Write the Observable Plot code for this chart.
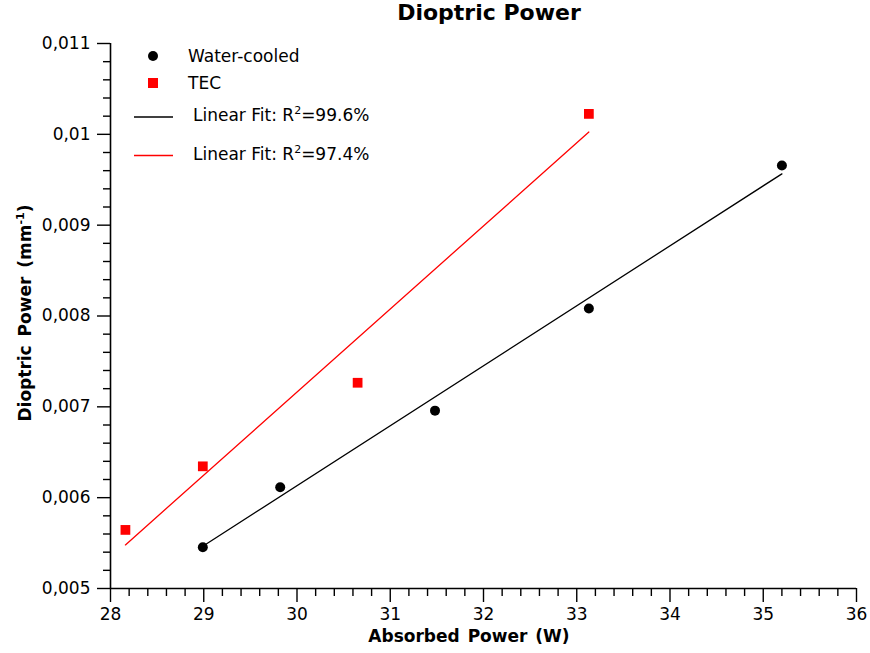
<!DOCTYPE html>
<html>
<head>
<meta charset="utf-8">
<script src="https://cdn.jsdelivr.net/npm/d3@7"></script>
<script src="https://cdn.jsdelivr.net/npm/@observablehq/plot@0.6"></script>
<style>
  body { margin: 0; background: #fff; }
  svg { display: block; }
</style>
</head>
<body>
<div id="chart"></div>
<script>
// ---- data ----
const waterX = [28.99, 29.82, 31.48, 33.13, 35.20];
const waterY = [0.005455, 0.006115, 0.006958, 0.008083, 0.009657];
const tecX = [28.16, 28.99, 30.65, 33.13];
const tecY = [0.005645, 0.006345, 0.007265, 0.010225];
// fitted line end points
const waterFitX = [28.99, 35.20];
const waterFitY = [0.005465, 0.009565];
const tecFitX = [28.16, 33.13];
const tecFitY = [0.005480, 0.010025];
// ticks
const xTicks = [28, 29, 30, 31, 32, 33, 34, 35, 36];
const yTicks = [0.005, 0.006, 0.007, 0.008, 0.009, 0.010, 0.011];
const yTickLabels = ["0,005", "0,006", "0,007", "0,008", "0,009", "0,01", "0,011"];
const legendLabels = ["Water-cooled", "TEC", "Linear Fit: R", "Linear Fit: R"];
const legendR2 = ["", "", "=99.6%", "=97.4%"];
const titleText = "Dioptric Power";
const xLabel = "Absorbed Power (W)";
const yLabel = "Dioptric Power (mm";

const water = waterX.map((x, i) => ({x, y: waterY[i]}));
const tec = tecX.map((x, i) => ({x, y: tecY[i]}));
const waterFit = waterFitX.map((x, i) => ({x, y: waterFitY[i]}));
const tecFit = tecFitX.map((x, i) => ({x, y: tecFitY[i]}));
const xMinor = d3.ticks(28, 36, 40).filter(v => !xTicks.some(t => Math.abs(t - v) < 1e-9));
const yMinor = d3.ticks(0.005, 0.011, 30).filter(v => !yTicks.some(t => Math.abs(t - v) < 1e-12));

const W = 870, H = 653;
const mL = 110, mR = 14, mT = 43, mB = 65;
const font = "DejaVu Sans";

const plot = Plot.plot({
  width: W,
  height: H,
  marginLeft: mL,
  marginRight: mR,
  marginTop: mT,
  marginBottom: mB,
  style: {fontFamily: font, fontSize: "17px", color: "#000", background: "#fff"},
  x: {domain: [28, 36], axis: null},
  y: {domain: [0.005, 0.011], axis: null},
  marks: [
    // minor ticks
    Plot.axisX(xMinor, {anchor: "bottom", tickSize: 8, tickFormat: () => "", label: null, strokeWidth: 1.4}),
    Plot.axisY(yMinor, {anchor: "left", tickSize: 7, tickFormat: () => "", label: null, strokeWidth: 1.4}),
    // major ticks
    Plot.axisX(xTicks, {anchor: "bottom", tickSize: 14, tickPadding: 5, tickFormat: d => String(d), label: null, strokeWidth: 1.4, fontSize: 17}),
    Plot.axisY(yTicks, {anchor: "left", tickSize: 13, tickPadding: 7, tickFormat: d => yTickLabels[yTicks.indexOf(d)], label: null, strokeWidth: 1.4, fontSize: 17}),
    // axis lines
    Plot.ruleX([28], {stroke: "#000", strokeWidth: 1.6}),
    Plot.ruleY([0.005], {stroke: "#000", strokeWidth: 1.6}),
    // fit lines
    Plot.line(waterFit, {x: "x", y: "y", stroke: "#000", strokeWidth: 1.3}),
    Plot.line(tecFit, {x: "x", y: "y", stroke: "#ff0000", strokeWidth: 1.3}),
    // data
    Plot.dot(water, {x: "x", y: "y", r: 5, fill: "#000", stroke: "none"}),
    Plot.dot(tec, {x: "x", y: "y", r: 5.5, symbol: "square", fill: "#ff0000", stroke: "none"})
  ]
});

const svg = d3.select(plot);
// title
svg.append("text").attr("x", 489).attr("y", 20)
  .attr("text-anchor", "middle").attr("font-family", font).attr("font-weight", "bold")
  .attr("font-size", 22).attr("fill", "#000").text(titleText);
// x label
svg.append("text").attr("x", 469).attr("y", 642)
  .attr("text-anchor", "middle").attr("font-family", font).attr("font-weight", "bold")
  .attr("font-size", 17).attr("word-spacing", 2).attr("fill", "#000").text(xLabel);
// y label
const yl = svg.append("text").attr("transform", "translate(31,313) rotate(-90)")
  .attr("text-anchor", "middle").attr("font-family", font).attr("font-weight", "bold")
  .attr("font-size", 17).attr("word-spacing", 3).attr("fill", "#000");
yl.append("tspan").text(yLabel);
yl.append("tspan").attr("font-size", 11).attr("dy", -7).text("-1");
yl.append("tspan").attr("dy", 7).text(")");

// legend
const lg = svg.append("g").attr("font-family", font).attr("font-size", 17).attr("fill", "#000").attr("text-anchor", "start");
lg.append("circle").attr("cx", 153).attr("cy", 56).attr("r", 5).attr("fill", "#000");
lg.append("text").attr("x", 188).attr("y", 56).attr("dy", "0.35em").text(legendLabels[0]);
lg.append("rect").attr("x", 148).attr("y", 78).attr("width", 10).attr("height", 10).attr("fill", "#ff0000");
lg.append("text").attr("x", 188).attr("y", 83).attr("dy", "0.35em").text(legendLabels[1]);
lg.append("line").attr("x1", 134).attr("x2", 173).attr("y1", 117).attr("y2", 117).attr("stroke", "#000").attr("stroke-width", 1.3);
lg.append("line").attr("x1", 134).attr("x2", 173).attr("y1", 155.5).attr("y2", 155.5).attr("stroke", "#ff0000").attr("stroke-width", 1.3);
[[2, 115], [3, 154]].forEach(([i, y]) => {
  const t = lg.append("text").attr("x", 193).attr("y", y + 6);
  t.append("tspan").text(legendLabels[i]);
  t.append("tspan").attr("font-size", 11).attr("dy", -7).text("2");
  t.append("tspan").attr("dy", 7).text(legendR2[i]);
});

document.getElementById("chart").appendChild(plot);
</script>
</body>
</html>
